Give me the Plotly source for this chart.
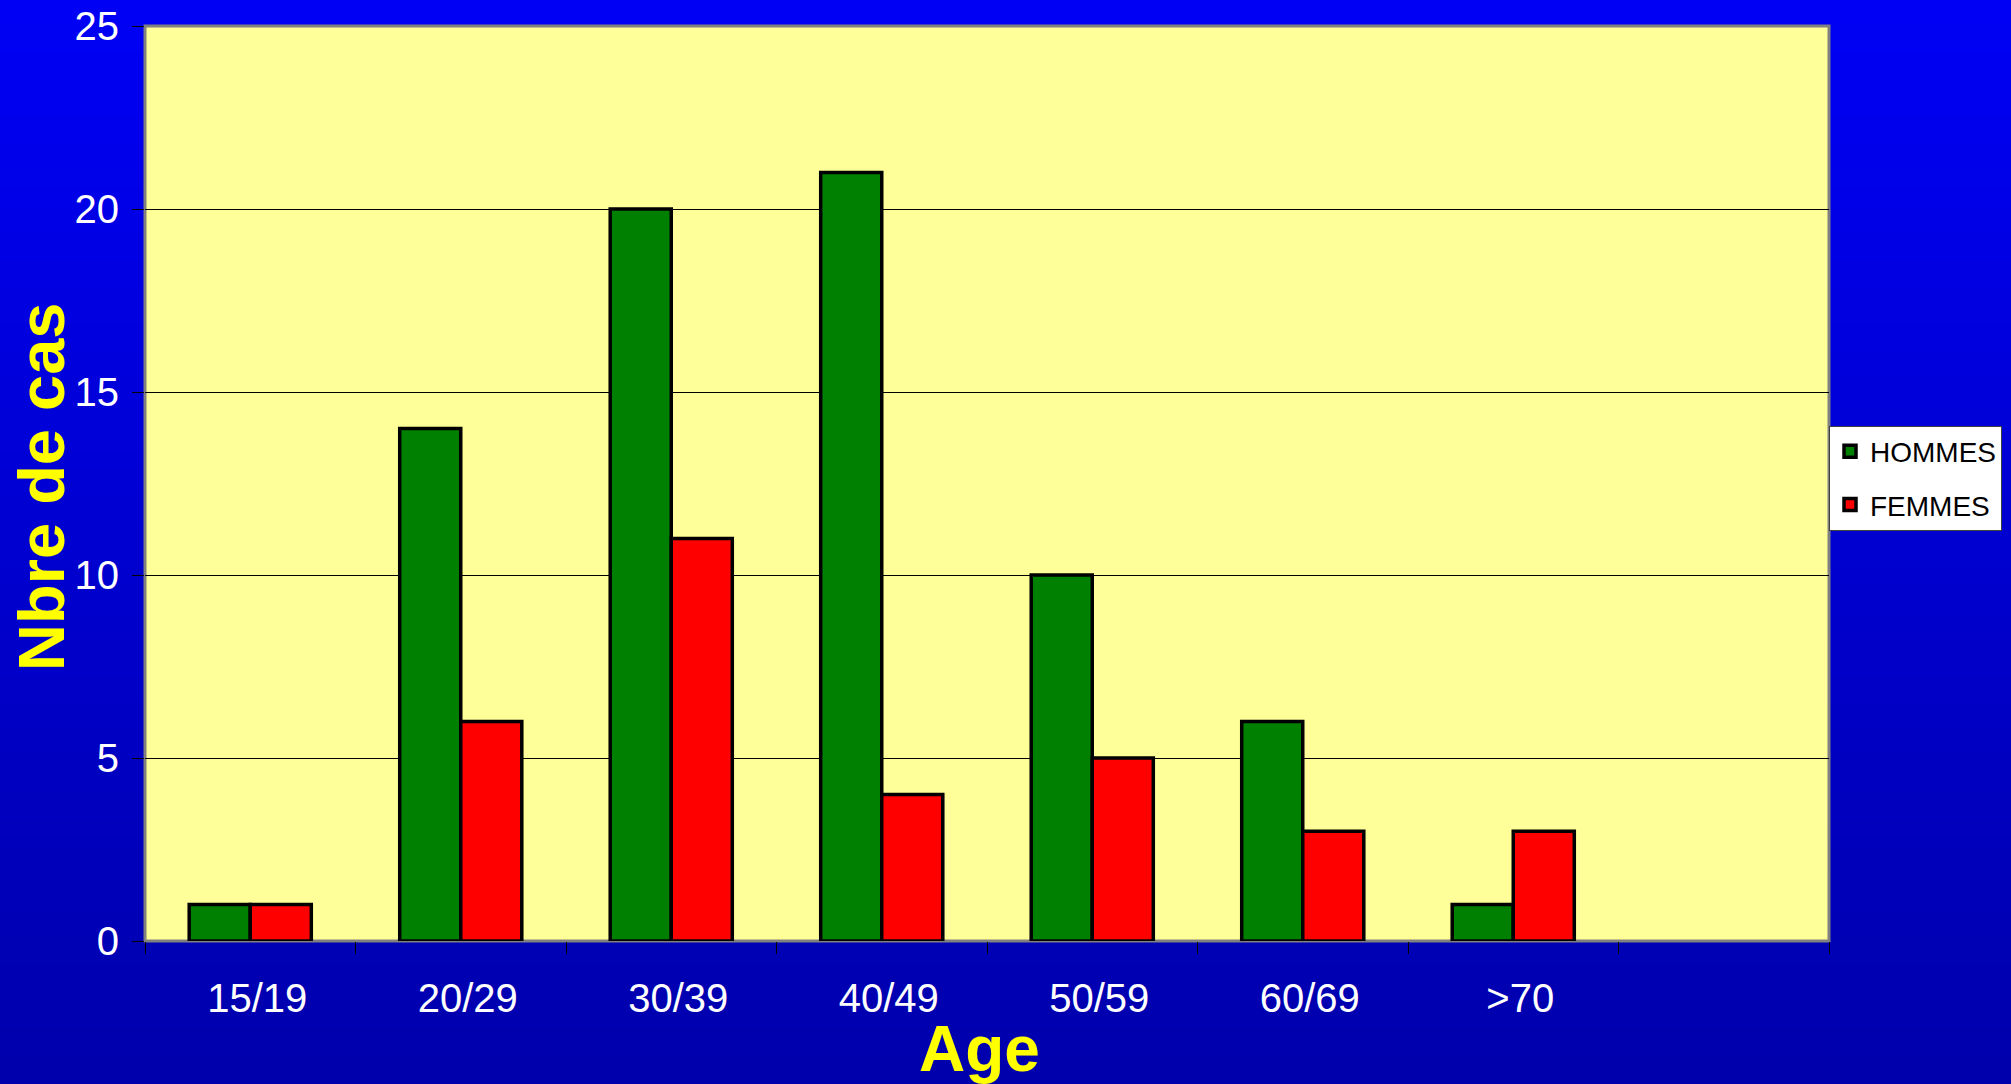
import plotly.graph_objects as go

categories = ["15/19", "20/29", "30/39", "40/49", "50/59", "60/69", ">70"]
hommes = [1, 14, 20, 21, 10, 6, 1]
femmes = [1, 6, 11, 4, 5, 3, 3]
y_ticks = [0, 5, 10, 15, 20, 25]

W, H = 2011, 1084
L, R, T, B = 145, 182, 26, 143
pw, ph = W - L - R, H - T - B

xs = list(range(len(categories)))

fig = go.Figure()
fig.add_trace(go.Bar(x=xs, y=hommes, name="HOMMES", legendgroup="h",
                     marker=dict(color="#008000", line=dict(color="black", width=3.5))))
fig.add_trace(go.Bar(x=xs, y=femmes, name="FEMMES", legendgroup="f",
                     marker=dict(color="#FF0000", line=dict(color="black", width=3.5))))

# gradient background via strips
shapes = []
n = 120
y_bot = -B / ph
y_top = (ph + T) / ph
x_left = -L / pw - 0.01
x_right = (pw + R) / pw + 0.01
for i in range(n):
    f = i / (n - 1)
    b = int(round(245 - (245 - 172) * f))
    y1 = y_top - (y_top - y_bot) * i / n
    y0 = y_top - (y_top - y_bot) * (i + 1) / n - 0.002
    shapes.append(dict(type="rect", xref="paper", yref="paper", x0=x_left, x1=x_right,
                       y0=y0, y1=y1 + 0.002, fillcolor=f"rgb(0,0,{b})", line=dict(width=0),
                       layer="below"))
shapes.append(dict(type="rect", xref="paper", yref="paper", x0=0, x1=1, y0=0, y1=1,
                   fillcolor="#FFFF99", line=dict(color="#808080", width=3), layer="below"))

fig.update_layout(
    width=W, height=H,
    margin=dict(l=L, r=R, t=T, b=B, pad=0, autoexpand=False),
    paper_bgcolor="#0000D0",
    plot_bgcolor="rgba(0,0,0,0)",
    barmode="group",
    bargap=0.42,
    bargroupgap=0,
    shapes=shapes,
    showlegend=True,
    legend=dict(x=1.0, xanchor="left", y=0.506, yanchor="middle",
                bgcolor="white", bordercolor="#404040", borderwidth=1,
                font=dict(family="Liberation Sans, Arial, sans-serif", size=28, color="black"),
                itemwidth=30, tracegroupgap=14, traceorder="grouped"),
    xaxis=dict(range=[-0.5, 7.5], tickmode="array", tickvals=xs, ticktext=categories,
               ticks="", showgrid=False, zeroline=False, showline=False, automargin=False,
               tickfont=dict(family="Liberation Sans, Arial, sans-serif", size=40, color="white"),
               ticklabelstandoff=30, ticklabelshift=7,
               minor=dict(tickmode="linear", tick0=-0.5, dtick=1, ticks="outside",
                          ticklen=12, tickcolor="black", tickwidth=1, showgrid=False)),
    yaxis=dict(range=[0, 25], tickmode="array", tickvals=y_ticks, automargin=False,
               ticks="outside", ticklen=12, tickcolor="black", tickwidth=1,
               showgrid=True, gridcolor="black", gridwidth=1, zeroline=False, showline=False,
               tickfont=dict(family="Liberation Sans, Arial, sans-serif", size=40, color="white"),
               ticklabelstandoff=5),
    annotations=[
        dict(text="<b>Nbre de cas</b>", xref="paper", yref="paper",
             x=(41 - L) / pw, y=(H - B - 487) / ph, textangle=-90, showarrow=False,
             xanchor="center", yanchor="middle",
             font=dict(family="Liberation Sans, Arial, sans-serif", size=65, color="#FFFF00")),
        dict(text="<b>Age</b>", xref="paper", yref="paper",
             x=(979 - L) / pw, y=(H - B - 1049) / ph, showarrow=False,
             xanchor="center", yanchor="middle",
             font=dict(family="Liberation Sans, Arial, sans-serif", size=64, color="#FFFF00")),
    ],
)

fig.write_html("out.html")
